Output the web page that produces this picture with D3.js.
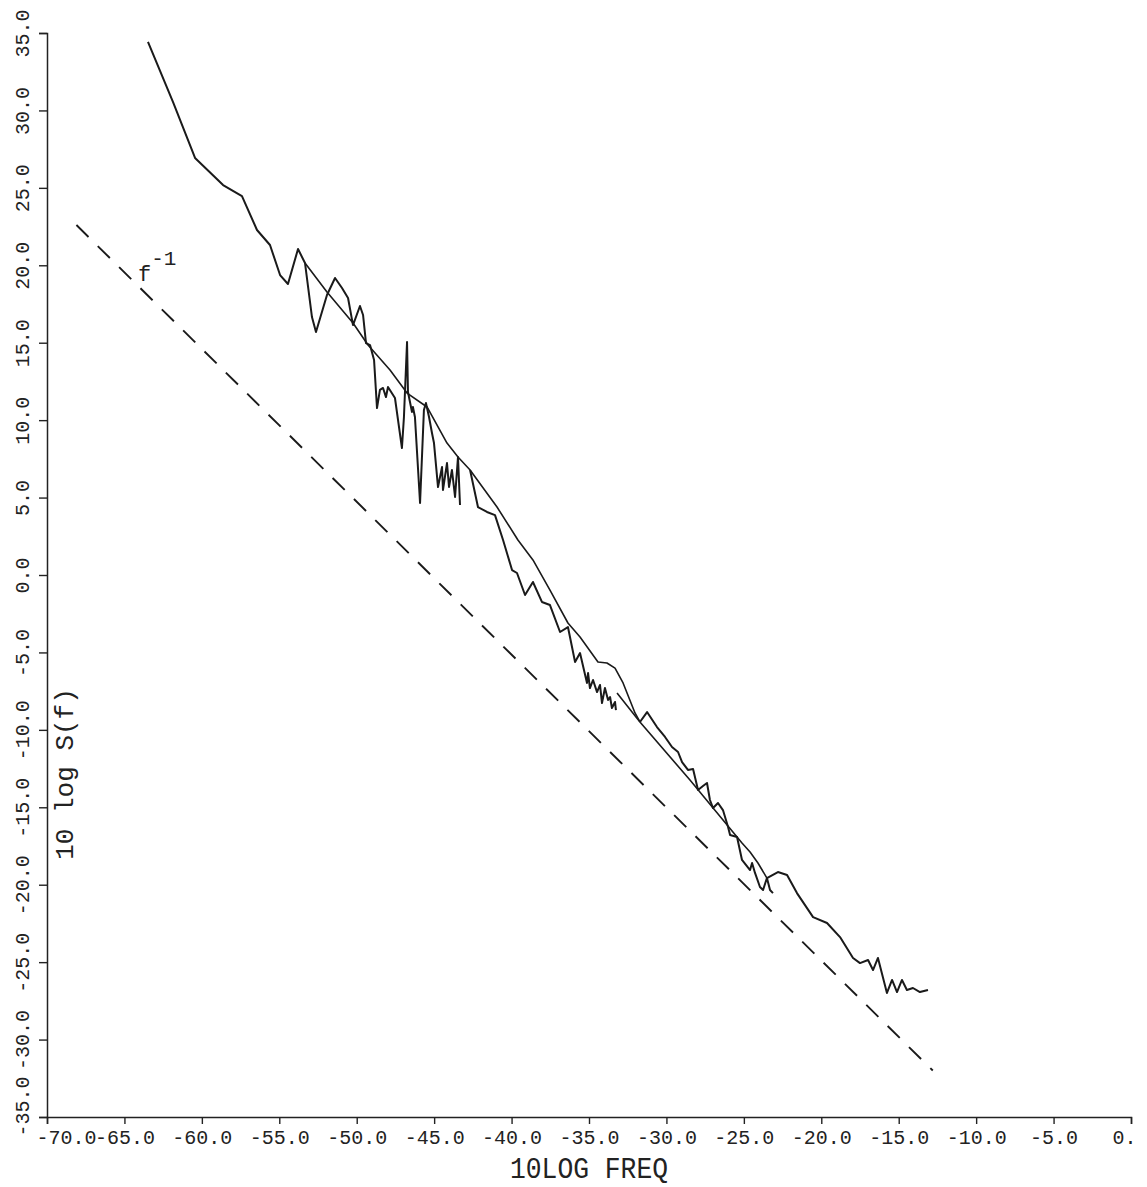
<!DOCTYPE html>
<html>
<head>
  <meta charset="utf-8">
  <title>10 log S(f)</title>
  <script src="https://d3js.org/d3.v7.min.js"></script>
  <style>
    body { margin: 0; background: #fff; }
    svg text { font-family: "Liberation Mono", "DejaVu Sans Mono", monospace; fill: #222; }
  </style>
</head>
<body>
<div id="chart"></div>
<script>
// tick values
var xTicks = [-70, -65, -60, -55, -50, -45, -40, -35, -30, -25, -20, -15, -10, -5, 0];
var yTicks = [-35, -30, -25, -20, -15, -10, -5, 0, 5, 10, 15, 20, 25, 30, 35];

// spectrum pieces, [10log freq, 10 log S(f)]
var seg1 = [[-63.48,34.42],[-61.86,30.54],[-60.44,26.93],[-58.63,25.18],[-57.41,24.47],[-56.44,22.28],
  [-55.60,21.31],[-54.95,19.37],[-54.44,18.79],[-53.79,21.05],[-53.34,20.15],[-52.89,16.66],[-52.63,15.69],
  [-51.92,18.08],[-51.40,19.18],[-50.95,18.53],[-50.56,17.89],[-50.24,16.14],[-49.79,17.37],[-49.59,16.79],
  [-49.40,14.98],[-49.14,14.85],[-48.88,13.88],[-48.69,10.78],[-48.50,11.95],[-48.30,12.08],[-48.11,11.49],
  [-47.98,12.14],[-47.53,11.43],[-47.08,8.20],[-46.95,10.20],[-46.75,15.05],[-46.69,11.82],[-46.43,10.53],
  [-46.37,10.85],[-46.24,10.20],[-45.91,4.65],[-45.66,10.66],[-45.53,11.11],[-45.33,10.20],[-45.14,9.17],
  [-45.01,8.52],[-44.75,5.68],[-44.49,6.97],[-44.43,5.49],[-44.17,7.23],[-44.04,5.68],[-43.85,6.78],
  [-43.65,5.04],[-43.46,7.62],[-43.33,4.52]];

var smooth1 = [[-53.34,20.15],[-51.92,18.27],[-50.24,16.27],[-49.27,14.85],[-47.85,13.24],[-46.75,11.75],
  [-45.46,10.85],[-44.17,8.52],[-43.46,7.62],[-42.68,6.78],[-40.94,4.39],[-39.59,2.26],[-38.62,0.97],
  [-37.52,-0.97],[-36.36,-3.10],[-35.58,-4.00],[-34.42,-5.62],[-33.84,-5.68],[-33.32,-6.01],[-32.80,-6.97],
  [-32.03,-8.91],[-31.71,-9.49]];

var seg2 = [[-42.68,6.78],[-42.17,4.39],[-41.59,4.07],[-41.07,3.87],[-40.55,2.26],[-39.97,0.32],[-39.65,0.13],
  [-39.13,-1.29],[-38.62,-0.45],[-38.04,-1.74],[-37.52,-1.94],[-36.87,-3.68],[-36.36,-3.36],[-35.90,-5.62],
  [-35.58,-5.04],[-35.13,-6.97],[-35.06,-6.33],[-34.94,-7.30],[-34.74,-6.78],[-34.48,-7.56],[-34.29,-7.10],
  [-34.16,-8.27],[-33.97,-7.30],[-33.77,-8.07],[-33.64,-7.88],[-33.52,-8.59],[-33.32,-8.20],[-33.26,-8.72]];

var smooth2 = [[-33.19,-7.62],[-31.71,-9.49],[-28.48,-13.24],[-25.12,-17.31],[-24.60,-17.89],[-24.09,-18.60],
  [-23.51,-19.57]];

var seg3 = [[-31.71,-9.49],[-31.25,-8.85],[-30.61,-9.82],[-30.09,-10.46],[-29.64,-11.11],[-29.25,-11.43],
  [-28.99,-12.08],[-28.61,-12.59],[-28.28,-12.53],[-27.96,-13.88],[-27.64,-13.63],[-27.38,-13.43],
  [-27.19,-14.53],[-26.99,-15.05],[-26.67,-14.72],[-26.35,-15.18],[-26.02,-16.27],[-25.89,-16.79],
  [-25.44,-16.92],[-25.12,-18.40],[-24.60,-19.05],[-24.47,-18.60],[-24.28,-19.24],[-23.96,-20.15],
  [-23.76,-20.34],[-23.51,-19.57],[-23.31,-20.34],[-23.12,-20.54]];

var seg4 = [[-23.51,-19.57],[-22.80,-19.18],[-22.21,-19.37],[-21.57,-20.54],[-20.53,-22.09],[-19.63,-22.47],
  [-18.79,-23.38],[-17.95,-24.73],[-17.50,-25.06],[-16.98,-24.86],[-16.66,-25.51],[-16.34,-24.73],
  [-15.76,-26.99],[-15.43,-26.15],[-15.11,-26.93],[-14.79,-26.15],[-14.47,-26.80],[-14.08,-26.67],
  [-13.63,-26.93],[-13.11,-26.80]];

// f^-1 reference line
var refLine = [[-68.1,22.6],[-12.8,-32.0]];

var W = 1147, H = 1187;
var svg = d3.select("#chart").append("svg").attr("width", W).attr("height", H);

var x = d3.scaleLinear().domain([-70, 0]).range([47, 1131]);
var y = d3.scaleLinear().domain([-35, 35]).range([1117, 33]);

// axes
var xAxis = d3.axisBottom(x).tickValues(xTicks).tickSize(7).tickFormat(function(d) {
  return d === 0 ? "0." : d.toFixed(1);
});
var gx = svg.append("g").attr("transform", "translate(0," + y(-35) + ")").call(xAxis);
gx.select(".domain").attr("stroke", "#222").attr("stroke-width", 1.5);
gx.selectAll(".tick line").attr("stroke", "#222").attr("stroke-width", 1.4);
gx.selectAll(".tick text")
  .attr("font-size", 20)
  .attr("font-family", "Liberation Mono")
  .attr("fill", "#222")
  .attr("y", 13)
  .attr("dx", function(d) { return d === -70 ? 19 : (d === 0 ? -7 : 0); });

var yAxis = d3.axisLeft(y).tickValues(yTicks).tickSize(8).tickFormat(function(d) { return d.toFixed(1); });
var gy = svg.append("g").attr("transform", "translate(" + x(-70) + ",0)").call(yAxis);
gy.select(".domain").attr("stroke", "#222").attr("stroke-width", 1.5);
gy.selectAll(".tick line").attr("stroke", "#222").attr("stroke-width", 1.4);
gy.selectAll(".tick text").remove();
gy.selectAll(".tick").append("text")
  .attr("font-size", 20)
  .attr("font-family", "Liberation Mono")
  .attr("text-anchor", "middle")
  .attr("transform", function(d) {
    var off = d === -35 ? -11 : 0;
    return "translate(-18," + off + ") rotate(-90)";
  })
  .attr("fill", "#222")
  .text(function(d) { return d.toFixed(1); });

// axis titles
svg.append("text")
  .attr("x", 589).attr("y", 1178)
  .attr("text-anchor", "middle")
  .attr("font-family", "DejaVu Sans Mono")
  .attr("font-size", 30)
  .attr("textLength", 158).attr("lengthAdjust", "spacingAndGlyphs")
  .text("10LOG FREQ");

svg.append("text")
  .attr("transform", "translate(73,774) rotate(-90)")
  .attr("text-anchor", "middle")
  .attr("font-family", "DejaVu Sans Mono")
  .attr("font-size", 26)
  .text("10 log S(f)");

// curves
var line = d3.line().x(function(d) { return x(d[0]); }).y(function(d) { return y(d[1]); });

svg.append("path").datum(refLine)
  .attr("d", line).attr("fill", "none")
  .attr("stroke", "#1a1a1a").attr("stroke-width", 1.9)
  .attr("stroke-dasharray", "17,13");

[seg1, smooth1, seg2, smooth2, seg3, seg4].forEach(function(s) {
  svg.append("path").datum(s)
    .attr("d", line).attr("fill", "none")
    .attr("stroke", "#1a1a1a")
    .attr("stroke-width", (s === smooth1 || s === smooth2) ? 1.6 : 2)
    .attr("stroke-linejoin", "round");
});

// f^-1 label
var lab = svg.append("text")
  .attr("x", 138).attr("y", 281)
  .attr("font-family", "DejaVu Sans Mono")
  .attr("font-size", 22);
lab.append("tspan").text("f");
lab.append("tspan").attr("dy", -16).attr("font-size", 21).text("-1");
</script>
</body>
</html>
